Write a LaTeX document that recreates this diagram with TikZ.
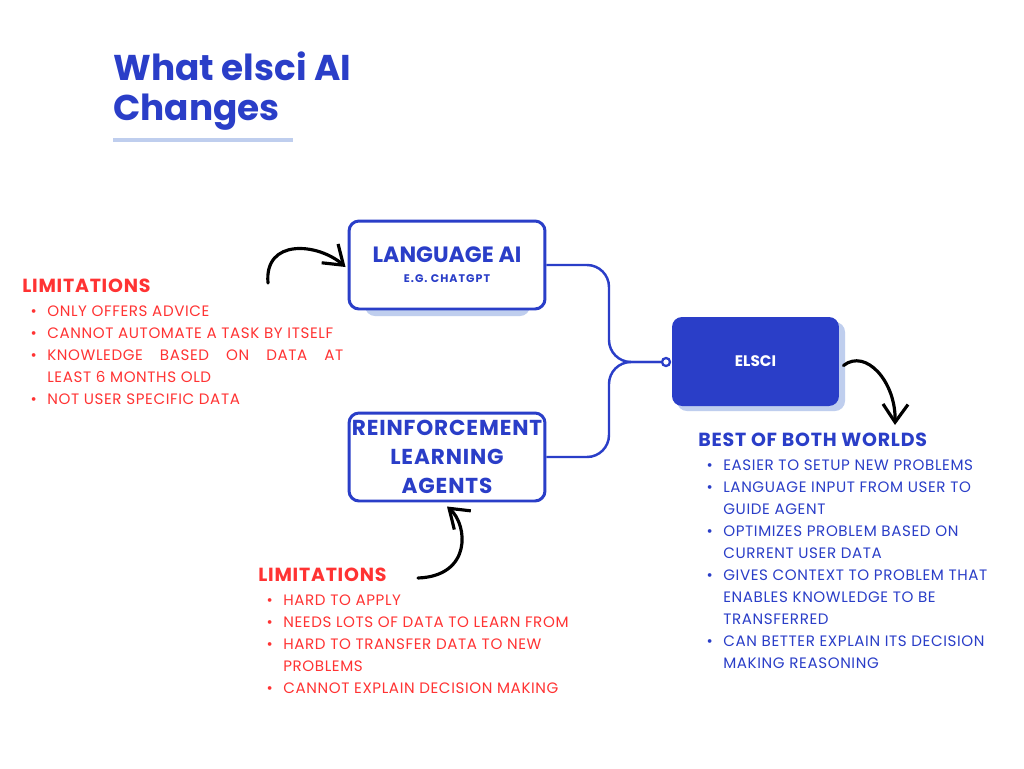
\documentclass[tikz,border=0pt]{standalone}
\usepackage{fontspec}
\setmainfont{Poppins}
\newfontfamily\spaced{Poppins}[LetterSpace=4]
\newfontfamily\wider{Poppins}[LetterSpace=9]
\usetikzlibrary{shapes.geometric, positioning, arrows.meta, calc}
\definecolor{elsciblue}{HTML}{2A3EC8}
\definecolor{paleblue}{HTML}{BFCEEE}
\definecolor{limred}{HTML}{FF3333}
\newcommand{\bul}{\llap{\textbullet\hspace{6pt}}}

\begin{document}
\begin{tikzpicture}[x=0.02cm, y=-0.02cm, box/.style={draw=elsciblue, rounded corners=0.2cm, line width=1.7pt, fill=white, minimum width=3.92cm, minimum height=1.76cm, text=elsciblue, align=center, inner sep=0pt}, shade/.style={fill=paleblue, rounded corners=0.2cm}, link/.style={draw=elsciblue, line width=1.4pt, rounded corners=0.44cm}, curly/.style={-{Straight Barb[length=0.36cm, width=0.5cm]}, line width=1.8pt, line cap=round, line join=round}, head/.style={anchor=base west, inner sep=0pt, font=\spaced\fontsize{10.8}{13}\selectfont\bfseries}, items/.style={anchor=base west, inner sep=0pt, align=left, font=\spaced\fontsize{8.6}{12.47}\selectfont}]
\fill[white] (0,0) rectangle (1024,768);
\useasboundingbox (0,0) rectangle (1024,768);
% title (base = last line)
\node[anchor=base west, inner sep=0pt, align=left, text=elsciblue, font=\fontsize{20.4}{22.7}\selectfont\bfseries] (title) at (113,120) {What elsci AI\\Changes};
\draw[paleblue, line width=2.3pt] (113,140) -- (293,140);
% boxes
\fill[shade] (365,296) rectangle (530,316);
\fill[shade] (677,322) rectangle (845,411);
\node[box, font=\fontsize{12.6}{11.3}\selectfont\bfseries] (lang) at (447,265) {LANGUAGE AI\\{\wider\fontsize{6.3}{7}\selectfont\bfseries E.G. CHATGPT}};
\node[box, font=\spaced\fontsize{12.3}{16.4}\selectfont\bfseries] (rl) at (447,457) {REINFORCEMENT\\LEARNING\\AGENTS};
\node[box, fill=elsciblue, draw=none, text=white, minimum width=3.34cm, minimum height=1.78cm, font=\fontsize{8.7}{10}\selectfont\bfseries] (elsci) at (755.5,361.5) {ELSCI};
\node[circle, draw=elsciblue, fill=white, line width=1.3pt, minimum size=0.16cm, inner sep=0pt] (hub) at (666,362) {};
\draw[link] (lang.east) -- (609,265) -- (609,362) -- (hub.west);
\draw[link] (rl.east) -- (609,457) -- (609,362) -- (hub.west);
% hand drawn arrows
\coordinate (tailL) at (268,283);
\coordinate (tailB) at (418,578);
\coordinate (tipR) at (895,425);
\draw[curly] (tailL) .. controls (264,238) and (318,243) .. ($(lang.west)+(-2,2)$);
\draw[curly] (tailB) .. controls (472,576) and (468,525) .. ($(rl.south)+(0,4)$);
\draw[curly] ($(elsci.east)+(3,4)$) .. controls (866,348) and (896,382) .. (tipR);
% lists (base = last line)
\node[head, text=limred] (limA) at (22,292) {LIMITATIONS};
\node[items, text=limred] (listA) at (47,404) {\bul ONLY OFFERS ADVICE\\\bul CANNOT AUTOMATE A TASK BY ITSELF\\\bul \hbox to 5.92cm{KNOWLEDGE\hfill BASED\hfill ON\hfill DATA\hfill AT}\\LEAST 6 MONTHS OLD\\\bul NOT USER SPECIFIC DATA};
\node[head, text=limred] (limB) at (258,581) {LIMITATIONS};
\node[items, text=limred] (listB) at (283,693) {\bul HARD TO APPLY\\\bul NEEDS LOTS OF DATA TO LEARN FROM\\\bul HARD TO TRANSFER DATA TO NEW\\PROBLEMS\\\bul CANNOT EXPLAIN DECISION MAKING};
\node[head, text=elsciblue] (best) at (698,446) {BEST OF BOTH WORLDS};
\node[items, text=elsciblue] (listC) at (723,668) {\bul EASIER TO SETUP NEW PROBLEMS\\\bul LANGUAGE INPUT FROM USER TO\\GUIDE AGENT\\\bul OPTIMIZES PROBLEM BASED ON\\CURRENT USER DATA\\\bul GIVES CONTEXT TO PROBLEM THAT\\ENABLES KNOWLEDGE TO BE\\TRANSFERRED\\\bul CAN BETTER EXPLAIN ITS DECISION\\MAKING REASONING};
\end{tikzpicture}
\end{document}
